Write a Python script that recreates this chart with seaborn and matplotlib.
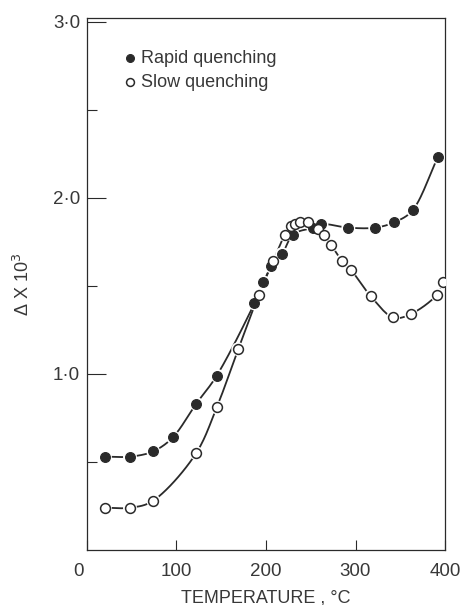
import numpy as np
import pandas as pd
import matplotlib
matplotlib.use("Agg")
import matplotlib.pyplot as plt
import matplotlib.transforms as mtransforms
import seaborn as sns

# ---- data ----
rapid_temp = [20, 48, 74, 96, 122, 145, 187, 197, 206, 218, 230, 253, 262, 292, 322, 343, 364, 392]
rapid_delta = [0.53, 0.53, 0.56, 0.64, 0.83, 0.99, 1.40, 1.52, 1.61, 1.68, 1.79, 1.83, 1.85, 1.83, 1.83, 1.86, 1.93, 2.23]

slow_temp = [20, 48, 74, 122, 145, 169, 192, 208, 221, 228, 232, 238, 247, 258, 265, 273, 285, 295, 317, 342, 362, 391, 398]
slow_delta = [0.24, 0.24, 0.28, 0.55, 0.81, 1.14, 1.45, 1.64, 1.79, 1.84, 1.85, 1.86, 1.86, 1.82, 1.79, 1.73, 1.64, 1.59, 1.44, 1.32, 1.34, 1.45, 1.52]

x_ticks = [0, 100, 200, 300, 400]
x_ticklabels = ["0", "100", "200", "300", "400"]
y_major = [1.0, 2.0, 3.0]
y_major_labels = ["1·0", "2·0", "3·0"]
y_minor = [0.5, 1.5, 2.5]

series_names = ["Rapid quenching", "Slow quenching"]


def smooth_curve(xs, ys, n=24):
    """Centripetal Catmull-Rom curve through the given points (display only)."""
    p = np.column_stack([xs, ys]).astype(float)
    sc = np.array([400.0, 3.0])
    q = p / sc
    q = np.vstack([2 * q[0] - q[1], q, 2 * q[-1] - q[-2]])
    out = []
    for i in range(1, len(q) - 2):
        p0, p1, p2, p3 = q[i - 1], q[i], q[i + 1], q[i + 2]

        def tj(ti, a, b):
            return ti + np.linalg.norm(b - a) ** 0.5 + 1e-9
        t0 = 0.0
        t1 = tj(t0, p0, p1)
        t2 = tj(t1, p1, p2)
        t3 = tj(t2, p2, p3)
        t = np.linspace(t1, t2, n)[:, None]
        a1 = (t1 - t) / (t1 - t0) * p0 + (t - t0) / (t1 - t0) * p1
        a2 = (t2 - t) / (t2 - t1) * p1 + (t - t1) / (t2 - t1) * p2
        a3 = (t3 - t) / (t3 - t2) * p2 + (t - t2) / (t3 - t2) * p3
        b1 = (t2 - t) / (t2 - t0) * a1 + (t - t0) / (t2 - t0) * a2
        b2 = (t3 - t) / (t3 - t1) * a2 + (t - t1) / (t3 - t1) * a3
        c = (t2 - t) / (t2 - t1) * b1 + (t - t1) / (t2 - t1) * b2
        out.append(c)
    c = np.vstack(out) * sc
    return c[:, 0], c[:, 1]


rapid_df = pd.DataFrame({"T": rapid_temp, "D": rapid_delta})
slow_df = pd.DataFrame({"T": slow_temp, "D": slow_delta})
rx, ry = smooth_curve(rapid_temp, rapid_delta)
sx, sy = smooth_curve(slow_temp, slow_delta)
rapid_curve = pd.DataFrame({"T": rx, "D": ry})
slow_curve = pd.DataFrame({"T": sx, "D": sy})

sns.set_style("ticks")
plt.rcParams["font.family"] = ["Liberation Sans", "DejaVu Sans"]
ink = "#2a2a2a"
text_c = "#383838"

fig = plt.figure(figsize=(4.61, 6.05), dpi=100)
ax = fig.add_axes([0.1887, 0.0909, 0.7766, 0.8793])

# curves
sns.lineplot(data=rapid_curve, x="T", y="D", sort=False, color=ink, lw=1.3, ax=ax, zorder=2)
sns.lineplot(data=slow_curve, x="T", y="D", sort=False, color=ink, lw=1.3, ax=ax, zorder=2)

# white halos giving the small gaps around markers
sns.scatterplot(data=rapid_df, x="T", y="D", s=100, color="white", edgecolor="none", ax=ax, zorder=3)
sns.scatterplot(data=slow_df, x="T", y="D", s=100, color="white", edgecolor="none", ax=ax, zorder=3)

# markers
sns.scatterplot(data=rapid_df, x="T", y="D", s=50, color=ink, edgecolor=ink, linewidth=0.8,
                ax=ax, zorder=4, label=series_names[0])
sns.scatterplot(data=slow_df, x="T", y="D", s=50, facecolor="white", edgecolor=ink, linewidth=1.1,
                ax=ax, zorder=4, label=series_names[1])

ax.set_xlim(0, 400)
ax.set_ylim(0, 3.02)

ax.set_xticks(x_ticks)
ax.set_xticklabels(x_ticklabels)
ax.set_yticks(y_major)
ax.set_yticklabels(y_major_labels)
ax.set_yticks(y_minor, minor=True)

ax.tick_params(axis="x", direction="in", length=7, width=0.8, color=ink, pad=9,
               labelsize=13.5, labelcolor=text_c)
ax.tick_params(axis="y", which="major", direction="in", length=14, width=0.8, color=ink,
               pad=5, labelsize=13.5, labelcolor=text_c)
ax.tick_params(axis="y", which="minor", direction="in", length=7, width=0.8, color=ink)

# the "0" label sits a little left of the axis in the original
zero_lab = ax.get_xticklabels()[0]
zero_lab.set_transform(zero_lab.get_transform() +
                       mtransforms.ScaledTranslation(-8 / 100, 0, fig.dpi_scale_trans))

for sp in ax.spines.values():
    sp.set_visible(True)
    sp.set_color(ink)
    sp.set_linewidth(0.9)

ax.set_xlabel("TEMPERATURE , °C", fontsize=13, color=text_c, labelpad=7)
ax.set_ylabel("Δ X 10$^3$", fontsize=13, color=text_c, labelpad=14)

leg = ax.legend(loc="upper left", bbox_to_anchor=(0.07, 0.957), frameon=False,
                fontsize=13, handletextpad=0.1, labelspacing=0.4, borderpad=0,
                handlelength=1.0, markerscale=0.8)
for t in leg.get_texts():
    t.set_color(text_c)

fig.savefig("out.png", dpi=100)
